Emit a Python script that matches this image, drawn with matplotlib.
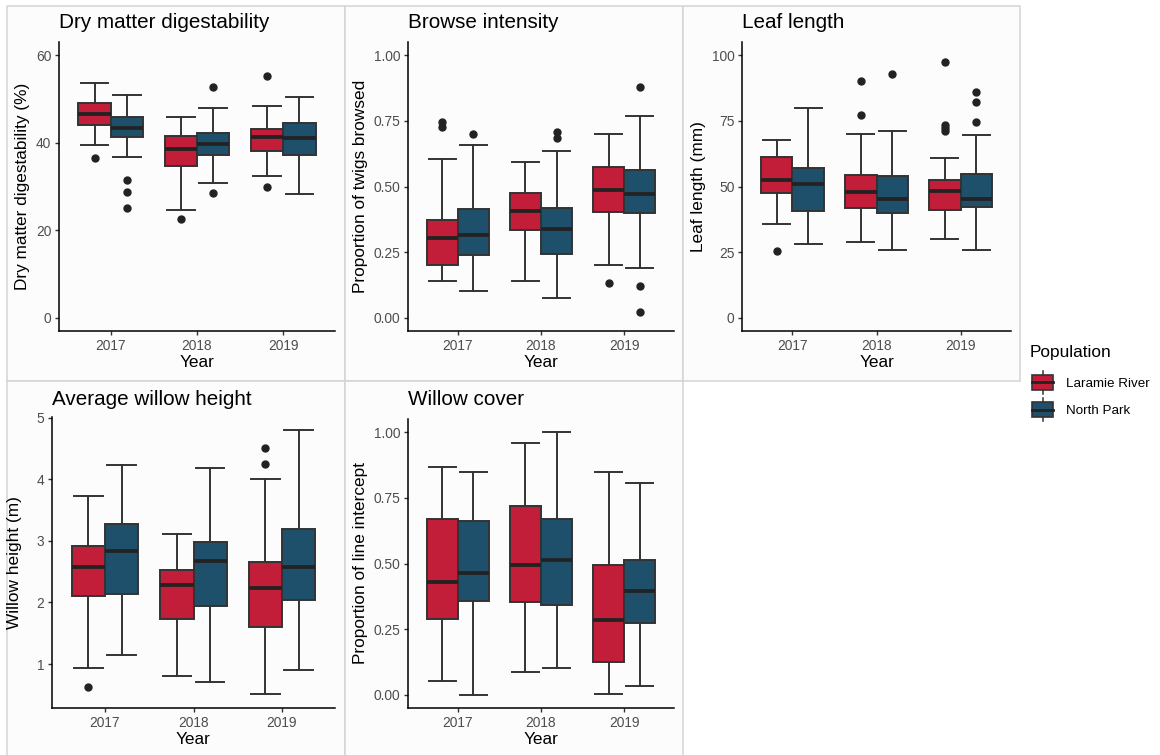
import matplotlib
matplotlib.use("Agg")
import matplotlib.pyplot as plt
from matplotlib.patches import Rectangle, Patch
from matplotlib.lines import Line2D
from matplotlib.legend_handler import HandlerBase

plt.rcParams['font.family'] = ['Liberation Sans', 'DejaVu Sans']

# ---------------- data (whislo, q1, median, q3, whishi) per year ----------------
years = ["2017", "2018", "2019"]
populations = ["Laramie River", "North Park"]

dmd_laramie = [(39.4, 44.0, 46.5, 49.1, 53.7), (24.7, 34.7, 38.6, 41.5, 45.8), (32.3, 38.1, 41.3, 43.1, 48.3)]
dmd_laramie_out = [[36.4], [22.6], [55.2, 30.0]]
dmd_northpark = [(36.7, 41.2, 43.4, 45.9, 51.0), (30.8, 37.1, 39.8, 42.3, 47.9), (28.2, 37.3, 41.0, 44.4, 50.5)]
dmd_northpark_out = [[31.5, 28.8, 25.2], [52.8, 28.6], []]

browse_laramie = [(0.142, 0.201, 0.304, 0.372, 0.603), (0.139, 0.333, 0.406, 0.475, 0.592), (0.200, 0.403, 0.487, 0.576, 0.699)]
browse_laramie_out = [[0.747, 0.727], [], [0.133]]
browse_northpark = [(0.104, 0.239, 0.316, 0.414, 0.657), (0.076, 0.244, 0.339, 0.419, 0.635), (0.190, 0.400, 0.471, 0.562, 0.770)]
browse_northpark_out = [[0.699], [0.709, 0.684], [0.878, 0.123, 0.022]]

leaf_laramie = [(35.6, 47.5, 52.5, 61.4, 67.8), (28.7, 42.0, 47.8, 54.2, 70.0), (30.0, 41.1, 48.1, 52.5, 61.0)]
leaf_laramie_out = [[25.6], [90.0, 77.1], [97.2, 73.5, 72.3, 71.3]]
leaf_northpark = [(28.2, 40.5, 50.8, 57.0, 79.7), (25.7, 39.9, 45.4, 54.1, 71.1), (25.9, 42.3, 45.3, 54.9, 69.5)]
leaf_northpark_out = [[], [92.8], [86.1, 82.2, 74.6]]

height_laramie = [(0.93, 2.11, 2.57, 2.92, 3.73), (0.80, 1.73, 2.29, 2.52, 3.11), (0.51, 1.60, 2.23, 2.66, 4.01)]
height_laramie_out = [[0.62], [], [4.51, 4.25]]
height_northpark = [(1.15, 2.14, 2.84, 3.28, 4.23), (0.70, 1.94, 2.67, 2.98, 4.19), (0.91, 2.04, 2.58, 3.19, 4.80)]
height_northpark_out = [[], [], []]

cover_laramie = [(0.053, 0.290, 0.428, 0.668, 0.868), (0.086, 0.354, 0.494, 0.719, 0.957), (0.004, 0.124, 0.285, 0.496, 0.849)]
cover_laramie_out = [[], [], []]
cover_northpark = [(0.000, 0.356, 0.465, 0.660, 0.849), (0.101, 0.342, 0.513, 0.668, 1.000), (0.032, 0.272, 0.397, 0.515, 0.807)]
cover_northpark_out = [[], [], []]

titles = ["Dry matter digestability", "Browse intensity", "Leaf length",
          "Average willow height", "Willow cover"]
ylabels = ["Dry matter digestability (%)", "Proportion of twigs browsed", "Leaf length (mm)",
           "Willow height (m)", "Proportion of line intercept"]

# ---------------- style ----------------
RED = "#C21E3A"
BLUE = "#1E4F6B"
EDGE = "#333333"
W, H = 1160, 755
fig = plt.figure(figsize=(W / 100, H / 100), dpi=100)
fig.patch.set_facecolor("white")

# panel backgrounds (each sub-plot boxed)
for (x0, y0, x1, y1) in [(7, 6, 345, 381), (345, 6, 683, 381), (683, 6, 1020, 381),
                         (7, 381, 345, 760), (345, 381, 683, 760)]:
    fig.add_artist(Rectangle((x0 / W, 1 - y1 / H), (x1 - x0) / W, (y1 - y0) / H,
                             transform=fig.transFigure, facecolor="#FCFCFC",
                             edgecolor="#D4D4D4", linewidth=1.1, zorder=-5))


def ax_at(l, t, r, b):
    return fig.add_axes([l / W, 1 - b / H, (r - l) / W, (b - t) / H])


def make_stats(five, outs):
    return [dict(whislo=f[0], q1=f[1], med=f[2], q3=f[3], whishi=f[4], fliers=o)
            for f, o in zip(five, outs)]


def draw_panel(rect, lr, lr_out, np_, np_out, ylim, yticks, yticklabels,
               title, ylabel, ylab_x, title_y):
    l, t, r, b = rect
    ax = ax_at(l, t, r, b)
    ax.set_facecolor("none")
    base = [1, 2, 3]
    for five, outs, off, col in [(lr, lr_out, -0.1875, RED), (np_, np_out, 0.1875, BLUE)]:
        ax.bxp(make_stats(five, outs), positions=[p + off for p in base], widths=0.375,
               patch_artist=True, capwidths=0.32, manage_ticks=False,
               boxprops=dict(facecolor=col, edgecolor=EDGE, linewidth=1.4),
               medianprops=dict(color="#222222", linewidth=2.7, solid_capstyle="butt"),
               whiskerprops=dict(color=EDGE, linewidth=1.4),
               capprops=dict(color=EDGE, linewidth=1.4),
               flierprops=dict(marker="o", markerfacecolor="#222222",
                               markeredgecolor="#222222", markersize=5))
    ax.set_xlim(0.4, 3.6)
    ax.set_ylim(*ylim)
    ax.set_xticks(base)
    ax.set_xticklabels(years)
    ax.set_yticks(yticks)
    ax.set_yticklabels(yticklabels)
    for s in ["top", "right"]:
        ax.spines[s].set_visible(False)
    for s in ["left", "bottom"]:
        ax.spines[s].set_linewidth(1.1)
        ax.spines[s].set_color("black")
    ax.tick_params(axis="both", length=3.2, width=1.0, color="#333333",
                   labelsize=9.9, labelcolor="#4D4D4D", pad=2.3)
    # title, labels
    fig.text(l / W, 1 - title_y / H, title, fontsize=14.9, ha="left", va="baseline",
             color="black")
    fig.text(ylab_x / W, 1 - ((t + b) / 2) / H, ylabel, rotation=90, fontsize=12.4,
             ha="center", va="center", color="black")
    fig.text(((l + r) / 2) / W, 1 - (b + 32) / H, "Year", fontsize=12.4,
             ha="center", va="center", color="black")
    return ax


draw_panel((59, 42, 335, 331), dmd_laramie, dmd_laramie_out, dmd_northpark, dmd_northpark_out,
           (-3, 63), [0, 20, 40, 60], ["0", "20", "40", "60"], titles[0], ylabels[0], 23, 28)
draw_panel((408, 42, 674, 331), browse_laramie, browse_laramie_out, browse_northpark,
           browse_northpark_out, (-0.05, 1.05), [0, 0.25, 0.5, 0.75, 1.0],
           ["0.00", "0.25", "0.50", "0.75", "1.00"], titles[1], ylabels[1], 360, 28)
draw_panel((742, 42, 1011, 331), leaf_laramie, leaf_laramie_out, leaf_northpark,
           leaf_northpark_out, (-5, 105), [0, 25, 50, 75, 100],
           ["0", "25", "50", "75", "100"], titles[2], ylabels[2], 698, 28)
draw_panel((52, 417, 335, 708), height_laramie, height_laramie_out, height_northpark,
           height_northpark_out, (0.285, 5.015), [1, 2, 3, 4, 5],
           ["1", "2", "3", "4", "5"], titles[3], ylabels[3], 15, 405)
draw_panel((408, 419, 674, 708), cover_laramie, cover_laramie_out, cover_northpark,
           cover_northpark_out, (-0.05, 1.05), [0, 0.25, 0.5, 0.75, 1.0],
           ["0.00", "0.25", "0.50", "0.75", "1.00"], titles[4], ylabels[4], 360, 405)


# ---------------- legend ----------------
class BoxHandler(HandlerBase):
    def create_artists(self, legend, orig_handle, xdescent, ydescent, width, height,
                       fontsize, trans):
        x0, y0 = -xdescent, -ydescent
        cx = x0 + width / 2
        wl = Line2D([cx, cx], [y0 - 1, y0 + height + 1], color=EDGE, linewidth=1.1,
                    transform=trans)
        bh = height * 0.72
        by = y0 + (height - bh) / 2
        box = Rectangle((x0, by), width, bh, facecolor=orig_handle.get_facecolor(),
                        edgecolor=EDGE, linewidth=1.2, transform=trans)
        med = Line2D([x0, x0 + width], [y0 + height / 2] * 2, color="#222222",
                     linewidth=2.0, transform=trans)
        return [wl, box, med]


fig.text(1030 / W, 1 - 352 / H, "Population", fontsize=12.4, ha="left", va="center",
         color="black")
handles = [Patch(facecolor=RED), Patch(facecolor=BLUE)]
leg = fig.legend(handles, populations, loc="upper left",
                 bbox_to_anchor=(1032 / W, 1 - 372 / H), frameon=False,
                 handler_map={Patch: BoxHandler()}, fontsize=9.6,
                 handlelength=1.6, handleheight=2.0, labelspacing=0.5,
                 handletextpad=0.95, borderaxespad=0, borderpad=0.0)

fig.savefig("out.png", dpi=100)
